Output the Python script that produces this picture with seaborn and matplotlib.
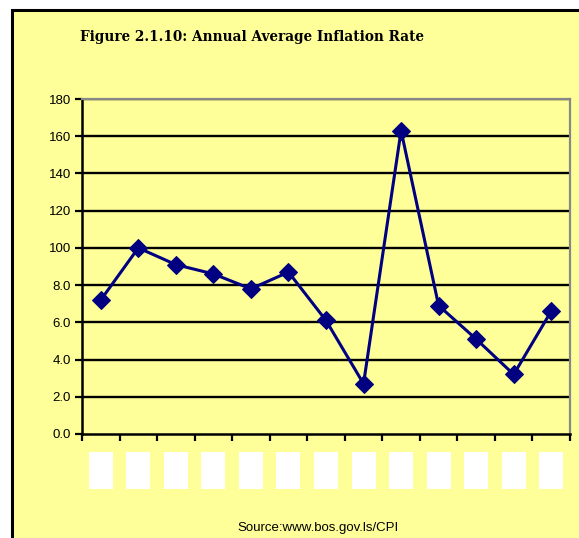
import matplotlib
matplotlib.use("Agg")
import matplotlib.pyplot as plt
import seaborn as sns
import pandas as pd
from matplotlib.patches import Rectangle
import matplotlib.transforms as mtransforms

# category labels are blanked out in the source picture
categories = [str(i) for i in range(1, 14)]
inflation = [7.2, 10.0, 9.1, 8.6, 7.8, 8.7, 6.1, 2.7, 16.3, 6.9, 5.1, 3.2, 6.6]
y_ticks = [0, 2, 4, 6, 8, 10, 12, 14, 16, 18]
y_tick_labels = ["0.0", "2.0", "4.0", "6.0", "8.0", "100", "120", "140", "160", "180"]

title = "Figure 2.1.10: Annual Average Inflation Rate"
source = "Source:www.bos.gov.ls/CPI"

df = pd.DataFrame({"pos": range(len(categories)), "cat": categories, "rate": inflation})

sns.set_style("white")
plt.rcParams["font.family"] = ["Liberation Sans", "DejaVu Sans"]
plt.rcParams["text.color"] = "black"
plt.rcParams["ytick.color"] = "black"
plt.rcParams["xtick.color"] = "black"

W, H = 579, 538
fig = plt.figure(figsize=(W / 100, H / 100), dpi=100)
fig.patch.set_facecolor("white")

yellow = "#FFFF99"
frame = Rectangle((12 / W, -0.05), 1.1, 1 - 10 / H + 0.05, transform=fig.transFigure,
                  facecolor=yellow, edgecolor="black", linewidth=2.2, zorder=-5)
fig.patches.append(frame)

ax = fig.add_axes([82 / W, 1 - 434 / H, (570 - 82) / W, (434 - 99) / H])
ax.set_zorder(2)
ax.set_facecolor(yellow)

for v in y_ticks[1:]:
    ax.axhline(v, color="black", linewidth=1.7, zorder=1)

sns.lineplot(data=df, x="pos", y="rate", ax=ax, color="#000080", linewidth=2.2,
             marker="D", markersize=9.5, markeredgecolor="#000080", zorder=3)

ax.set_xlim(-0.5, len(categories) - 0.5)
ax.set_ylim(0, 18)
ax.set_yticks(y_ticks)
ax.set_yticklabels(y_tick_labels, fontsize=9.5)
ax.set_xticks([i - 0.5 for i in range(len(categories) + 1)])
ax.set_xticklabels([])
ax.tick_params(axis="both", direction="out", length=5, width=1.6, color="black", pad=3,
               bottom=True, left=True)
ax.set_xlabel("")
ax.set_ylabel("")

for side in ["left", "bottom"]:
    ax.spines[side].set_color("black")
    ax.spines[side].set_linewidth(1.8)
for side in ["top", "right"]:
    ax.spines[side].set_color("#888888")
    ax.spines[side].set_linewidth(1.6)

# white boxes covering the category labels
trans = mtransforms.blended_transform_factory(ax.transData, ax.transAxes)
box_h = (489 - 452) / (434 - 99)
box_y = -(452 - 434) / (434 - 99) - box_h
for i in range(len(categories)):
    ax.add_patch(Rectangle((i - 0.32, box_y), 0.64, box_h, transform=trans,
                           facecolor="white", edgecolor="none", clip_on=False))

fig.text(80 / W, 1 - 37 / H, title, fontsize=9.8, fontweight="bold",
         family=["DejaVu Serif"], va="center", ha="left", color="black")
fig.text(318 / W, 1 - 528 / H, source, fontsize=9.5, va="center", ha="center", color="black")

fig.savefig("out.png", dpi=100)
